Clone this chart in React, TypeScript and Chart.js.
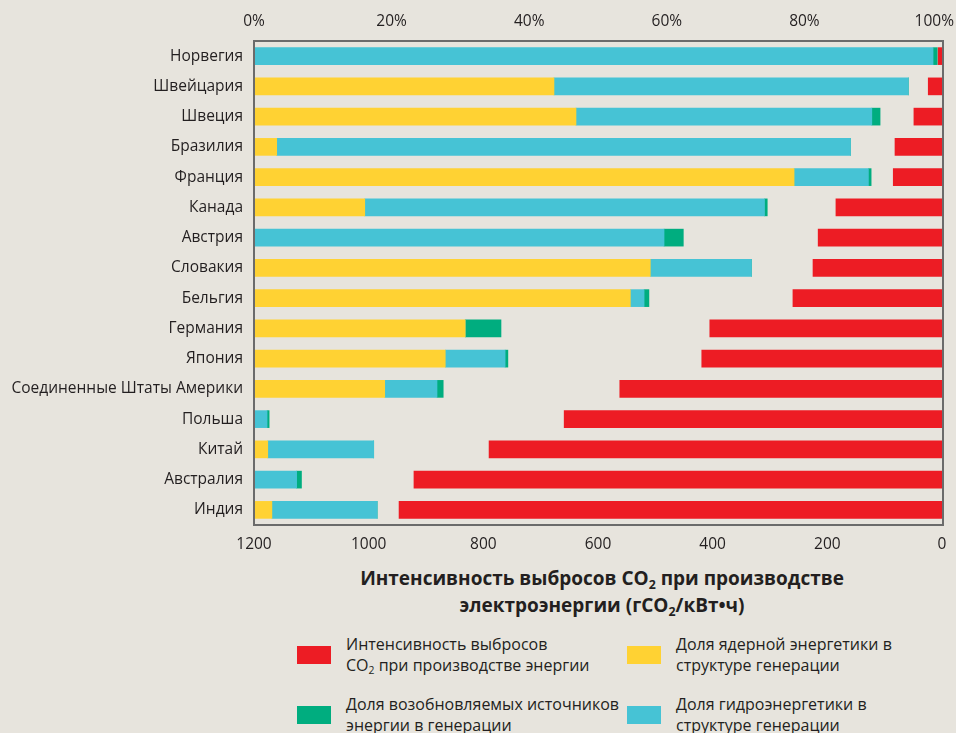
import React, { useEffect, useRef } from "react";
import { Chart, registerables } from "chart.js";

Chart.register(...registerables);

const categories = [
  "Норвегия",
  "Швейцария",
  "Швеция",
  "Бразилия",
  "Франция",
  "Канада",
  "Австрия",
  "Словакия",
  "Бельгия",
  "Германия",
  "Япония",
  "Соединенные Штаты Америки",
  "Польша",
  "Китай",
  "Австралия",
  "Индия",
];

// Shares of generation, %
const nuclearShare = [0, 43.6, 46.8, 3.3, 78.5, 16.1, 0, 57.6, 54.7, 30.7, 27.8, 19.0, 0, 2.0, 0, 2.6];
const hydroShare = [98.7, 51.5, 43.0, 83.4, 10.8, 58.1, 59.6, 14.7, 2.0, 0, 8.7, 7.6, 1.9, 15.4, 6.2, 15.3];
const renewableShare = [0.6, 0, 1.2, 0, 0.4, 0.4, 2.8, 0, 0.7, 5.2, 0.4, 0.9, 0.3, 0, 0.7, 0];
// CO2 intensity, gCO2/kWh
const co2Intensity = [7, 24, 49, 82, 85, 185, 216, 225, 260, 405, 419, 562, 659, 790, 921, 947];

const percentMax = 100;
const percentStep = 20;
const intensityMax = 1200;
const intensityStep = 200;

const COLORS = {
  red: "#ed1c24",
  yellow: "#ffd233",
  cyan: "#46c3d5",
  green: "#00ad7f",
  bg: "#e7e4dd",
  text: "#231f20",
  frame: "#6b6b6b",
};

const FONT = "'Open Sans', 'Noto Sans', sans-serif";

const framePlugin = {
  id: "frame",
  afterDatasetsDraw(chart: any) {
    const { ctx, chartArea } = chart;
    ctx.save();
    ctx.strokeStyle = COLORS.frame;
    ctx.lineWidth = 2;
    ctx.strokeRect(chartArea.left, chartArea.top, chartArea.right - chartArea.left + 1, chartArea.bottom - chartArea.top);
    ctx.restore();
  },
};

function ChartCanvas() {
  const ref = useRef<HTMLCanvasElement | null>(null);
  useEffect(() => {
    if (!ref.current) return;
    Chart.defaults.font.family = FONT;
    const barThickness = 17;
    const chart = new Chart(ref.current, {
      type: "bar",
      data: {
        labels: categories,
        datasets: [
          { label: "Доля ядерной энергетики", data: nuclearShare, backgroundColor: COLORS.yellow, xAxisID: "x", stack: "s", barThickness },
          { label: "Доля гидроэнергетики", data: hydroShare, backgroundColor: COLORS.cyan, xAxisID: "x", stack: "s", barThickness },
          { label: "Доля возобновляемых источников", data: renewableShare, backgroundColor: COLORS.green, xAxisID: "x", stack: "s", barThickness },
          { label: "Интенсивность выбросов CO2", data: co2Intensity, backgroundColor: COLORS.red, xAxisID: "x2", stack: "s", barThickness },
        ],
      },
      options: {
        indexAxis: "y",
        animation: false,
        responsive: false,
        maintainAspectRatio: false,
        layout: { padding: { left: 0, right: 14, top: 0, bottom: 0 } },
        plugins: { legend: { display: false }, tooltip: { enabled: false } },
        scales: {
          y: {
            type: "category",
            stacked: true,
            grid: { display: false, drawTicks: false },
            border: { display: false },
            ticks: { color: COLORS.text, font: { family: FONT, size: 15.5 }, padding: 11 },
            afterFit: (s: any) => {
              s.width = 254;
            },
          },
          x: {
            type: "linear",
            position: "top",
            stacked: true,
            min: 0,
            max: percentMax,
            grid: { display: false, drawTicks: false },
            border: { display: false },
            ticks: {
              stepSize: percentStep,
              color: COLORS.text,
              font: { family: FONT, size: 15.5 },
              padding: 10,
              maxRotation: 0,
              callback: (v: any) => (v === percentMax ? v + "%\u2002\u2002" : v + "%"),
            },
            afterFit: (s: any) => {
              s.height = 41;
              s.paddingLeft = 0;
              s.paddingRight = 0;
            },
          },
          x2: {
            type: "linear",
            position: "bottom",
            reverse: true,
            stacked: true,
            min: 0,
            max: intensityMax,
            grid: { display: false, drawTicks: false },
            border: { display: false },
            ticks: {
              stepSize: intensityStep,
              color: COLORS.text,
              font: { family: FONT, size: 15.5 },
              padding: 10,
              maxRotation: 0,
              callback: (v: any) => String(v),
            },
            afterFit: (s: any) => {
              s.height = 35;
              s.paddingLeft = 0;
              s.paddingRight = 0;
            },
          },
        },
      } as any,
      plugins: [framePlugin],
    });
    return () => chart.destroy();
  }, []);
  return <canvas ref={ref} width={956} height={560} style={{ display: "block", position: "absolute", left: 0, top: 0 }} />;
}

const sub: React.CSSProperties = { fontSize: "0.65em", verticalAlign: "-0.3em", lineHeight: 0 };

function LegendItem(props: { x: number; y: number; color: string; lines: React.ReactNode[] }) {
  return (
    <div style={{ position: "absolute", left: props.x, top: props.y, display: "flex", alignItems: "center" }}>
      <div style={{ width: 34, height: 18, background: props.color, marginRight: 15, flex: "none" }} />
      <div style={{ fontFamily: FONT, fontSize: 16, lineHeight: "21px", color: COLORS.text, whiteSpace: "nowrap" }}>
        {props.lines.map((l, i) => (
          <div key={i}>{l}</div>
        ))}
      </div>
    </div>
  );
}

export default function App() {
  return (
    <div style={{ position: "fixed", left: 0, top: 0, width: 956, height: 733, background: COLORS.bg, overflow: "hidden" }}>
      <ChartCanvas />
      <div
        style={{
          position: "absolute",
          left: 252,
          width: 700,
          top: 565,
          textAlign: "center",
          fontFamily: FONT,
          fontWeight: 700,
          fontSize: 19,
          lineHeight: "27px",
          color: COLORS.text,
        }}
      >
        <div>
          Интенсивность выбросов CO<span style={sub}>2</span> при производстве
        </div>
        <div>
          электроэнергии (гCO<span style={sub}>2</span>/кВт•ч)
        </div>
      </div>
      <LegendItem
        x={297}
        y={634}
        color={COLORS.red}
        lines={["Интенсивность выбросов", <span>CO<span style={sub}>2</span> при производстве энергии</span>]}
      />
      <LegendItem x={627} y={634} color={COLORS.yellow} lines={["Доля ядерной энергетики в", "структуре генерации"]} />
      <LegendItem x={297} y={694} color={COLORS.green} lines={["Доля возобновляемых источников", "энергии в генерации"]} />
      <LegendItem x={627} y={694} color={COLORS.cyan} lines={["Доля гидроэнергетики в", "структуре генерации"]} />
    </div>
  );
}
